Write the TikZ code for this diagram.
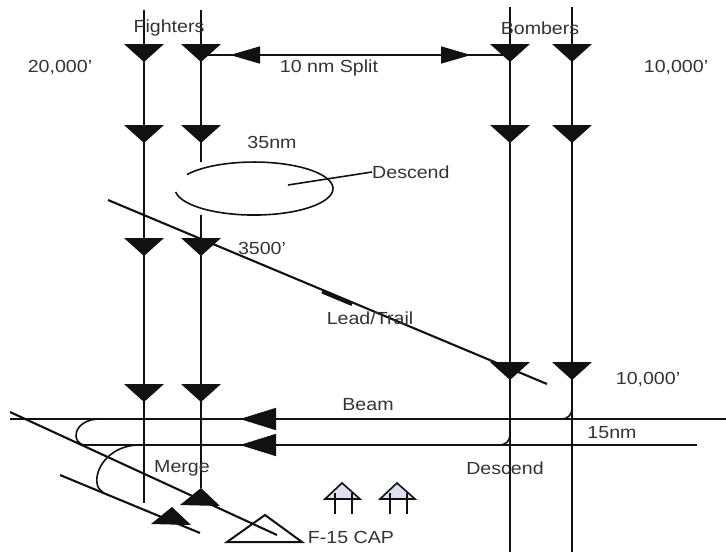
\documentclass[tikz,border=0pt]{standalone}
\usepackage{fontspec}
\setmainfont{Liberation Sans}[FakeStretch=1.12]
\usetikzlibrary{arrows.meta, calc}
\definecolor{clrline}{HTML}{111111}
\definecolor{clrtext}{HTML}{333333}
\definecolor{clrcap}{HTML}{DDE0EE}

\begin{document}
\begin{tikzpicture}[
    x=1pt, y=-1pt,
    every node/.style={font=\fontsize{17.5}{19}\selectfont, text=clrtext, inner sep=0pt},
    track/.style={draw=clrline, line width=1.6pt},
    heavy/.style={draw=clrline, line width=2.1pt},
    splitarrow/.style={track, -{Triangle[length=30pt, width=17pt]}},
    beamarrow/.style={track, -{Triangle[length=36pt, width=22pt]}},
    jetdown/.pic={\fill[clrline] (0,0) -- (-20,-18) -- (20,-18) -- cycle;},
    jetup/.pic={\fill[clrline] (0,0) -- (-21,17) -- (19,18) -- cycle;},
    target/.pic={\draw[clrline, line width=2pt] (0,0) -- (-38,27) -- (37,27) -- cycle;},
    cap/.pic={\filldraw[fill=clrcap, draw=clrline, line width=1.6pt] (0,0) -- (-17,16) -- (18,16) -- cycle;
              \draw[clrline, line width=1.6pt] (-7,10) -- (-7,31) (10,10) -- (10,31);},
]
\useasboundingbox (0,0) rectangle (726,552);
% fighter and bomber tracks
\coordinate (f1_top) at (144,10);
\coordinate (f1_end) at (144,503);
\coordinate (f2_top) at (201,10);
\coordinate (f2_in) at (201,162);
\coordinate (f2_out) at (201,215);
\coordinate (f2_end) at (201,488);
\coordinate (b1_top) at (510,7);
\coordinate (b1_end) at (510,552);
\coordinate (b2_top) at (572,7);
\coordinate (b2_end) at (572,552);
\draw[track] (f1_top) -- (f1_end);
\draw[track] (f2_top) -- (f2_in);
\draw[track] (f2_out) -- (f2_end);
\draw[track] (b1_top) -- (b1_end);
\draw[track] (b2_top) -- (b2_end);
\pic at (144,62) {jetdown};
\pic at (201,62) {jetdown};
\pic at (510,62) {jetdown};
\pic at (572,62) {jetdown};
\pic at (144,143) {jetdown};
\pic at (201,143) {jetdown};
\pic at (510,143) {jetdown};
\pic at (572,143) {jetdown};
\pic at (144,256) {jetdown};
\pic at (201,256) {jetdown};
\pic at (510,380) {jetdown};
\pic at (572,380) {jetdown};
\pic at (144,402) {jetdown};
\pic at (201,402) {jetdown};
\pic at (f2_end) {jetup};
\pic at (172,507) {jetup};
% split
\coordinate (split_l) at (201,55);
\coordinate (split_r) at (510,55);
\draw[track] (split_l) -- (split_r);
\draw[splitarrow] (260,55) -- (230,55);
\draw[splitarrow] (441,55) -- (471,55);
% descend loop
\coordinate (loop_start) at (187,174.5);
\draw[track] (loop_start) arc[start angle=-148, end angle=172.5, x radius=79, y radius=26.5];
\coordinate (loop_lead) at (288,185);
\node[anchor=west] (lbl_descend_1) at (372,172) {Descend};
\draw[track] (loop_lead) -- (lbl_descend_1.west);
% lead/trail
\coordinate (lt_start) at (108,200);
\coordinate (lt_end) at (547,384);
\draw[heavy] (lt_start) -- (lt_end);
\draw[clrline, line width=3pt] (322,292) -- (352,304.5);
% beam
\coordinate (beam_top_l) at (10,419);
\coordinate (beam_top_r) at (726,419);
\coordinate (beam_low_l) at (86,445);
\coordinate (beam_low_r) at (697,445);
\draw[track] (beam_top_l) -- (beam_top_r);
\draw[track] (beam_low_l) -- (beam_low_r);
\draw[beamarrow] (276,419) -- (240,419);
\draw[beamarrow] (276,445) -- (240,445);
\draw[track] (100,419) .. controls (72,419) and (70,445) .. (beam_low_l);
\draw[track] (140,445) .. controls (100,445) and (88,485) .. (103,492);
\draw[track] (572,409) arc[start angle=0, end angle=90, radius=10];
\draw[track] (510,435) arc[start angle=0, end angle=90, radius=10];
% merge
\coordinate (merge_a) at (10,412);
\coordinate (merge_b) at (277,535);
\coordinate (merge_c) at (60,475);
\coordinate (merge_d) at (200,533);
\draw[heavy] (merge_a) -- (merge_b);
\draw[heavy] (merge_c) -- (merge_d);
\pic at (265,515) {target};
% CAP
\pic at (342,483) {cap};
\pic at (397,483) {cap};
% labels
\node (lbl_fighters) at (169,28) {Fighters};
\node (lbl_bombers) at (540,28) {Bombers};
\node (lbl_alt_f) at (60,68) {20,000'};
\node (lbl_alt_b) at (676,68) {10,000'};
\node (lbl_split) at (329,68) {10 nm Split};
\node (lbl_35) at (272,142) {35nm};
\node (lbl_3500) at (262,248) {3500'};
\node (lbl_lt) at (370,318) {Lead/Trail};
\node (lbl_alt_b2) at (648,380) {10,000'};
\node (lbl_beam) at (368,405) {Beam};
\node (lbl_15) at (612,433) {15nm};
\node (lbl_merge) at (182,468) {Merge};
\node (lbl_descend_2) at (505,468) {Descend};
\node (lbl_cap) at (351,537) {F-15 CAP};
\end{tikzpicture}
\end{document}
